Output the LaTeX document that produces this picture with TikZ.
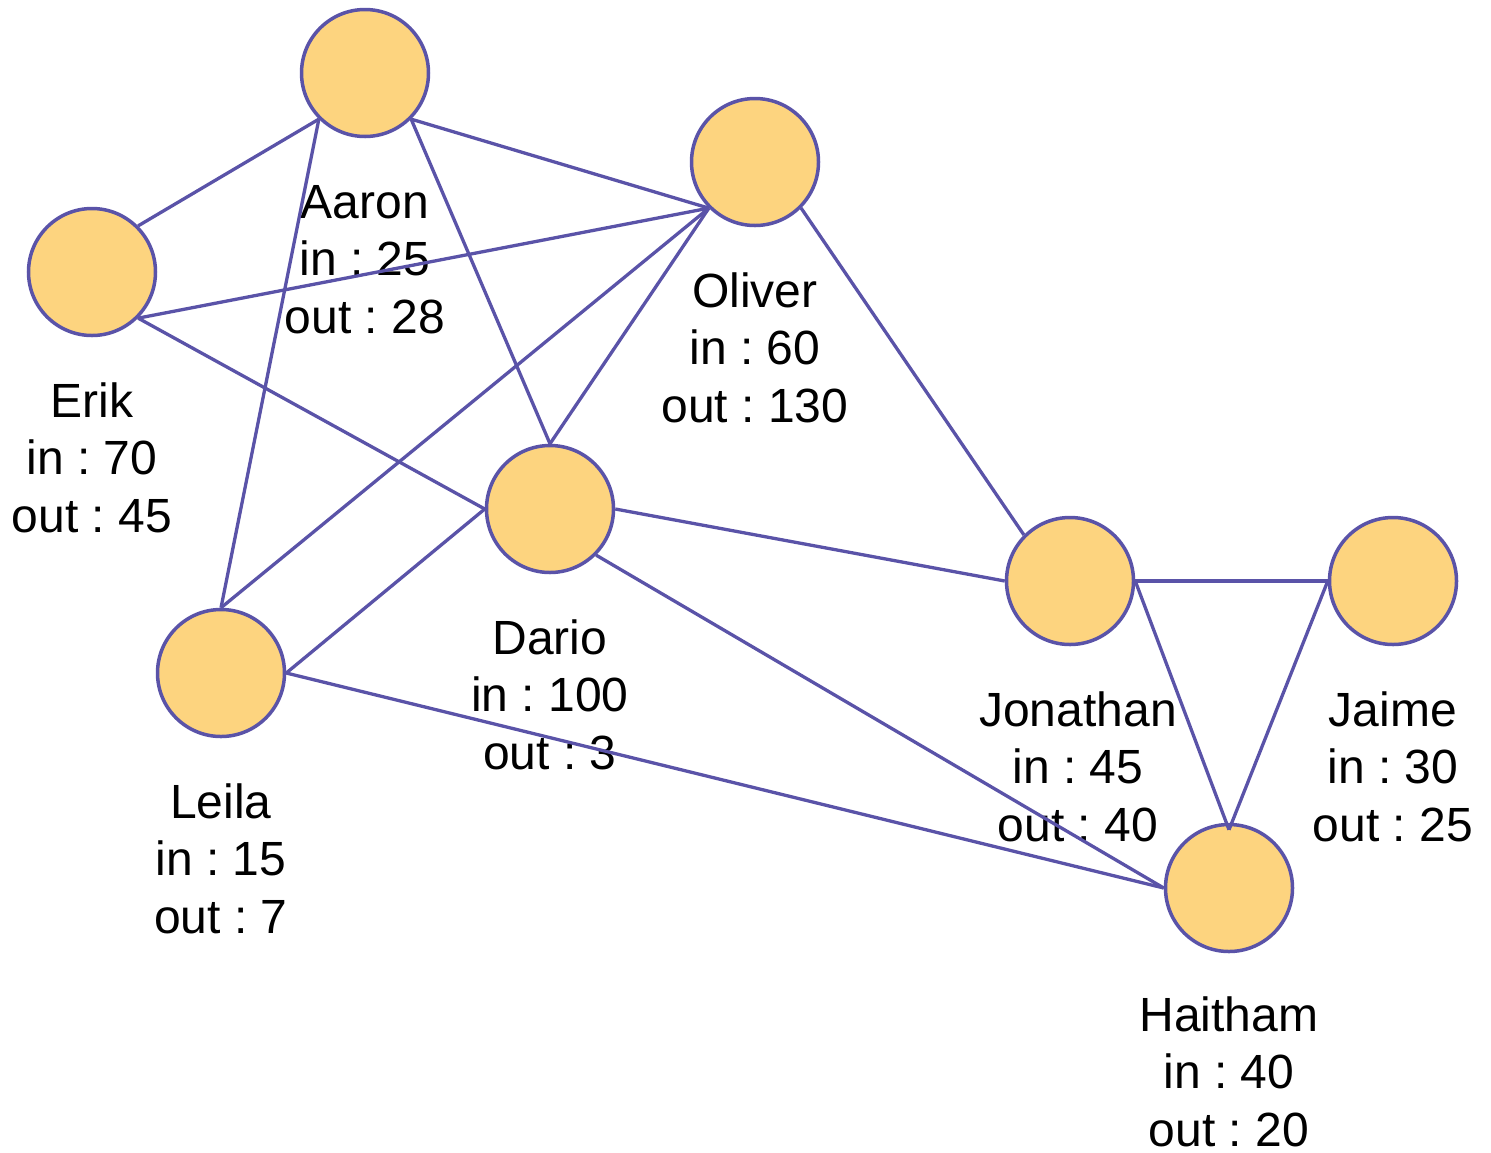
\documentclass[tikz,border=0pt]{standalone}
\usepackage{fontspec}
\setmainfont{Liberation Sans}
\frenchspacing
\begin{document}
\begin{tikzpicture}[x=1pt,y=-1pt,
  person/.style={circle,draw=edgeblue,fill=nodefill,line width=3.5pt,minimum size=127pt,inner sep=0pt},
  info/.style={align=center,anchor=base,inner sep=0pt,font=\fontsize{48}{57.5}\selectfont},
  link/.style={draw=edgeblue,line width=3.3pt}]
\definecolor{nodefill}{HTML}{FDD47F}
\definecolor{edgeblue}{HTML}{5A53A8}
\useasboundingbox (0,0) rectangle (1491,1152);
% people
\node[person] (A) at (365,73) {};
\node[person] (O) at (755,162) {};
\node[person] (E) at (92,272) {};
\node[person] (D) at (550,509) {};
\node[person] (L) at (221,673) {};
\node[person] (J) at (1070,581) {};
\node[person] (M) at (1393,581) {};
\node[person] (H) at (1229,888) {};
% in/out counts (anchored at the baseline of the last line)
\node[info] (tA) at (365,333) {Aaron\\in : 25\\out : 28};
\node[info] (tO) at (755,422) {Oliver\\in : 60\\out : 130};
\node[info] (tE) at (92,532) {Erik\\in : 70\\out : 45};
\node[info] (tD) at (550,769) {Dario\\in : 100\\out : 3};
\node[info] (tL) at (221,933) {Leila\\in : 15\\out : 7};
\node[info] (tJ) at (1078,841) {Jonathan\\in : 45\\out : 40};
\node[info] (tM) at (1393,841) {Jaime\\in : 30\\out : 25};
\node[info] (tH) at (1229,1146) {Haitham\\in : 40\\out : 20};
% connections
\coordinate (Htop) at ([yshift=-7pt]H.north);
\path[link] (E.north east) -- (A.south west);
\path[link] (E.south east) -- (O.south west);
\path[link] (E.south east) -- (D.west);
\path[link] (A.south east) -- (O.south west);
\path[link] (A.south east) -- (D.north);
\path[link] (A.south west) -- (L.north);
\path[link] (L.north) -- (O.south west);
\path[link] (L.east) -- (D.west);
\path[link] (L.east) -- (H.west);
\path[link] (D.north) -- (O.south west);
\path[link] (D.east) -- (J.west);
\path[link] (D.south east) -- (H.west);
\path[link] (O.south east) -- (J.north west);
\path[link] (J.east) -- (M.west);
\path[link] (J.east) -- (Htop);
\path[link] (M.west) -- (Htop);
\end{tikzpicture}
\end{document}
